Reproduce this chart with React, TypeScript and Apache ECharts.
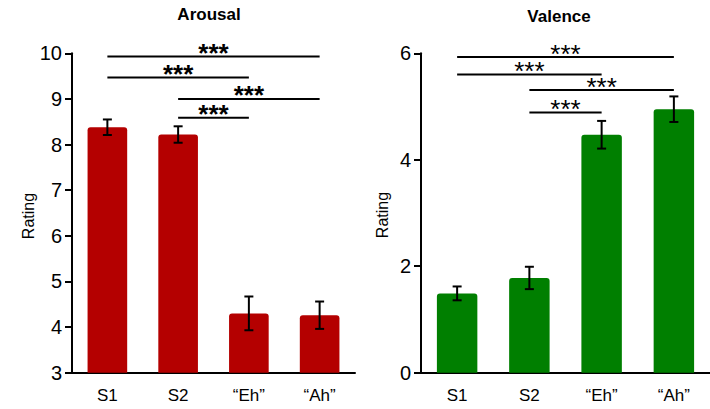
import React, { useEffect, useRef } from "react";
import * as echarts from "echarts";

const categories = ["S1", "S2", "\u201CEh\u201D", "\u201CAh\u201D"];
const arousalMean = [8.38, 8.22, 4.3, 4.26];
const arousalErr = [0.17, 0.18, 0.37, 0.3];
const valenceMean = [1.49, 1.78, 4.47, 4.95];
const valenceErr = [0.13, 0.21, 0.26, 0.24];
// [fromIndex, toIndex, level]
const arousalSig = [
  [0, 3, 9.93],
  [0, 2, 9.47],
  [1, 3, 9.0],
  [1, 2, 8.59],
];
const valenceSig = [
  [0, 3, 5.93],
  [0, 2, 5.6],
  [1, 3, 5.31],
  [1, 2, 4.89],
];
const sigLabel = "***";

const FONT = "Arial, 'Liberation Sans', sans-serif";

export default function App() {
  const ref = useRef<HTMLDivElement>(null);
  useEffect(() => {
    if (!ref.current) return;
    const chart = echarts.init(ref.current, undefined, { renderer: "svg" });

    const errData = (m: number[], e: number[]) => m.map((v, i) => [i, v - e[i], v + e[i]]);

    const errRender = (params: any, api: any) => {
      const x = api.value(0);
      const lo = api.coord([x, api.value(1)]);
      const hi = api.coord([x, api.value(2)]);
      const hw = 4.5;
      const st = { stroke: "#000", lineWidth: 2 };
      return {
        type: "group",
        children: [
          { type: "line", shape: { x1: lo[0], y1: lo[1], x2: hi[0], y2: hi[1] }, style: st },
          { type: "line", shape: { x1: lo[0] - hw, y1: lo[1], x2: lo[0] + hw, y2: lo[1] }, style: st },
          { type: "line", shape: { x1: hi[0] - hw, y1: hi[1], x2: hi[0] + hw, y2: hi[1] }, style: st },
        ],
      };
    };

    const sigRender = (bold: boolean) => (params: any, api: any) => {
      const a = api.coord([api.value(0), api.value(2)]);
      const b = api.coord([api.value(1), api.value(2)]);
      return {
        type: "group",
        children: [
          { type: "line", shape: { x1: a[0], y1: a[1], x2: b[0], y2: b[1] }, style: { stroke: "#000", lineWidth: 2 } },
          {
            type: "text",
            x: (a[0] + b[0]) / 2,
            y: a[1] - 3.5,
            style: {
              text: sigLabel,
              fill: "#000",
              font: `${bold ? "bold " : ""}26px ${FONT}`,
              align: "center",
              verticalAlign: "middle",
            },
          },
        ],
      };
    };

    const xAxisBase = {
      type: "category",
      data: categories,
      boundaryGap: true,
      axisLine: { lineStyle: { color: "#000", width: 2 } },
      axisTick: { alignWithLabel: true, length: 7, lineStyle: { color: "#000", width: 2 } },
      axisLabel: { color: "#000", fontSize: 17, fontFamily: FONT, margin: 14 },
    };
    const yAxisBase = {
      type: "value",
      axisLine: { show: true, lineStyle: { color: "#000", width: 2 } },
      axisTick: { show: true, length: 7, lineStyle: { color: "#000", width: 2 } },
      axisLabel: { color: "#000", fontSize: 20, fontFamily: FONT, margin: 10 },
      splitLine: { show: false },
    };

    chart.setOption({
      animation: false,
      grid: [
        { left: 72, top: 53.3, width: 283, bottom: 36.3, containLabel: false },
        { left: 421, top: 53.3, width: 289, bottom: 36.3, containLabel: false },
      ],
      xAxis: [
        { ...xAxisBase, gridIndex: 0 },
        { ...xAxisBase, gridIndex: 1 },
      ],
      yAxis: [
        { ...yAxisBase, gridIndex: 0, min: 3, max: 10, interval: 1 },
        { ...yAxisBase, gridIndex: 1, min: 0, max: 6, interval: 2 },
      ],
      graphic: [
        { type: "text", x: 209, y: 14, style: { text: "Arousal", font: `bold 17px ${FONT}`, fill: "#000", align: "center", verticalAlign: "middle" } },
        { type: "text", x: 559, y: 16, style: { text: "Valence", font: `bold 17px ${FONT}`, fill: "#000", align: "center", verticalAlign: "middle" } },
        { type: "text", x: 28, y: 216, rotation: Math.PI / 2, style: { text: "Rating", font: `16px ${FONT}`, fill: "#000", align: "center", verticalAlign: "middle" } },
        { type: "text", x: 382.5, y: 215, rotation: Math.PI / 2, style: { text: "Rating", font: `16px ${FONT}`, fill: "#000", align: "center", verticalAlign: "middle" } },
      ],
      series: [
        {
          type: "bar",
          xAxisIndex: 0,
          yAxisIndex: 0,
          data: arousalMean,
          barWidth: "56%",
          itemStyle: { color: "#b40000", borderRadius: [3, 3, 0, 0] },
        },
        {
          type: "custom",
          xAxisIndex: 0,
          yAxisIndex: 0,
          data: errData(arousalMean, arousalErr),
          renderItem: errRender,
          encode: { x: 0, y: [1, 2] },
          z: 5,
        },
        {
          type: "custom",
          xAxisIndex: 0,
          yAxisIndex: 0,
          data: arousalSig,
          renderItem: sigRender(true),
          encode: { x: [0, 1], y: 2 },
          clip: false,
          z: 5,
        },
        {
          type: "bar",
          xAxisIndex: 1,
          yAxisIndex: 1,
          data: valenceMean,
          barWidth: "56%",
          itemStyle: { color: "#007f00", borderRadius: [3, 3, 0, 0] },
        },
        {
          type: "custom",
          xAxisIndex: 1,
          yAxisIndex: 1,
          data: errData(valenceMean, valenceErr),
          renderItem: errRender,
          encode: { x: 0, y: [1, 2] },
          z: 5,
        },
        {
          type: "custom",
          xAxisIndex: 1,
          yAxisIndex: 1,
          data: valenceSig,
          renderItem: sigRender(false),
          encode: { x: [0, 1], y: 2 },
          clip: false,
          z: 5,
        },
      ],
    });
    return () => chart.dispose();
  }, []);
  return (
    <div
      ref={ref}
      style={{ position: "absolute", left: 0, top: 0, width: 710, height: 409, background: "#fff" }}
    />
  );
}
